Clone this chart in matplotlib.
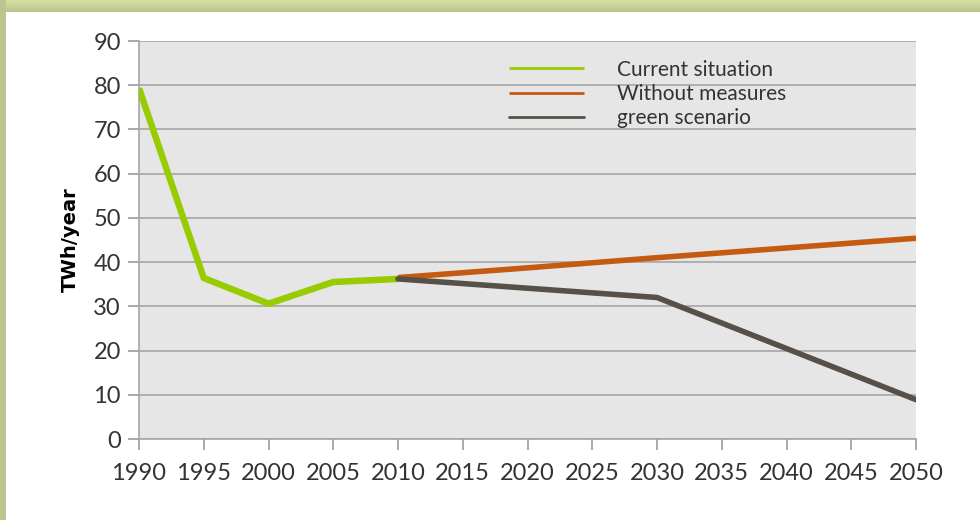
import matplotlib
matplotlib.use("Agg")
import matplotlib.pyplot as plt
import numpy as np
from matplotlib.patches import Rectangle

# data
years_now = [1990, 1995, 2000, 2005, 2010]
current = [79.3, 36.4, 30.6, 35.5, 36.2]

years_nomeas = [2010, 2020, 2030, 2050]
without_measures = [36.5, 38.7, 41.0, 45.4]

years_green = [2010, 2020, 2030, 2050]
green = [36.2, 34.1, 32.0, 8.9]

xticks = list(range(1990, 2051, 5))
yticks = list(range(0, 91, 10))

c_green = '#99CC00'
c_orange = '#C55A11'
c_dark = '#575046'

plt.rcParams['font.family'] = ['Lato', 'DejaVu Sans']

fig = plt.figure(figsize=(9.8, 5.2), dpi=100)
fig.patch.set_facecolor('white')

# olive frame at top and left
band = fig.add_axes([0, 1 - 12/520, 1, 12/520])
grad = np.linspace(0, 1, 50).reshape(-1, 1)
band.imshow(grad, aspect='auto', cmap=matplotlib.colors.LinearSegmentedColormap.from_list(
    'b', ['#D3E2A2', '#BCC48C']), extent=[0, 1, 0, 1])
band.axis('off')
fig.patches.append(Rectangle((0, 0), 6/980, 1, transform=fig.transFigure,
                             facecolor='#BCC58E', edgecolor='none', zorder=0))

ax = fig.add_axes([139/980, 1 - 439/520, (916 - 139)/980, (439 - 41)/520])
ax.set_facecolor('#E6E6E6')

ax.plot(years_now, current, color=c_green, lw=4.7, solid_capstyle='butt',
        solid_joinstyle='round', zorder=3, label='Current situation')
ax.plot(years_nomeas, without_measures, color=c_orange, lw=4,
        solid_capstyle='butt', zorder=4, label='Without measures')
ax.plot(years_green, green, color=c_dark, lw=4, solid_capstyle='round',
        solid_joinstyle='round', zorder=4, label='green scenario')

ax.set_xlim(1990, 2050)
ax.set_ylim(0, 90)
ax.set_xticks(xticks)
ax.set_yticks(yticks)
ax.tick_params(axis='both', colors='#9A9A9A', labelcolor='#333333',
               labelsize=17, length=8, width=1.2, direction='out')
ax.tick_params(axis='x', pad=9)
ax.tick_params(axis='y', pad=5)
ax.yaxis.grid(True, color='#A6A6A6', lw=1.2)
ax.set_axisbelow(True)
for s in ['top', 'right']:
    ax.spines[s].set_visible(False)
ax.spines['left'].set_color('#A6A6A6')
ax.spines['bottom'].set_color('#A6A6A6')
ax.spines['left'].set_linewidth(1.2)
ax.spines['bottom'].set_linewidth(1.2)

ax.set_ylabel('TWh/year', fontsize=14, fontweight='bold', color='black', labelpad=10,
              family=['DejaVu Sans'])

leg = ax.legend(loc='upper left', bbox_to_anchor=(0.452, 1.0), frameon=False,
                fontsize=15, handlelength=3.6, handletextpad=1.6, labelspacing=0.2,
                labelcolor='#333333')
for h in leg.get_lines():
    h.set_linewidth(2)

fig.savefig('out.png', dpi=100)
